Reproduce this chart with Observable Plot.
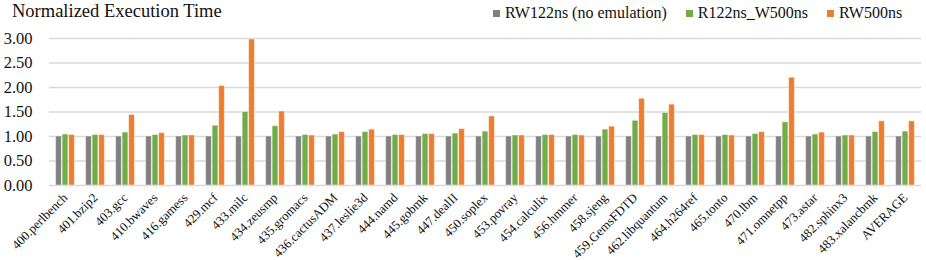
<!DOCTYPE html>
<html>
<head>
<meta charset="utf-8">
<script src="https://cdn.jsdelivr.net/npm/d3@7"></script>
<script src="https://cdn.jsdelivr.net/npm/@observablehq/plot@0.6"></script>
<style>
  html, body { margin: 0; padding: 0; background: #fff; }
  #wrap { width: 926px; font-family: "Liberation Serif", "Times New Roman", serif; color: #111; }
  #header { position: relative; height: 28px; }
  #title { position: absolute; left: 12px; top: 1px; font-size: 18.5px; }
  #legend { position: absolute; left: 493px; top: 4px; display: flex; align-items: center; font-size: 16px; white-space: nowrap; }
  .item { display: flex; align-items: center; margin-right: 19px; }
  .sw { width: 7px; height: 7px; margin-right: 5px; }
  #chart svg { overflow: visible; }
</style>
</head>
<body>
<div id="wrap">
  <div id="header">
    <div id="title">Normalized Execution Time</div>
    <div id="legend"></div>
  </div>
  <div id="chart"></div>
</div>
<script>
const categories = [
  "400.perlbench","401.bzip2","403.gcc","410.bwaves","416.gamess","429.mcf","433.milc",
  "434.zeusmp","435.gromacs","436.cactusADM","437.leslie3d","444.namd","445.gobmk",
  "447.dealII","450.soplex","453.povray","454.calculix","456.hmmer","458.sjeng",
  "459.GemsFDTD","462.libquantum","464.h264ref","465.tonto","470.lbm","471.omnetpp",
  "473.astar","482.sphinx3","483.xalancbmk","AVERAGE"
];
const seriesNames = ["RW122ns (no emulation)", "R122ns_W500ns", "RW500ns"];
const rw122 = [1.00,1.00,1.00,1.00,1.00,1.00,1.00,1.00,1.00,1.00,1.00,1.00,1.00,1.00,1.00,1.00,1.00,1.00,1.00,1.00,1.00,1.00,1.00,1.00,1.00,1.00,1.00,1.00,1.00];
const r122w500 = [1.04,1.03,1.08,1.03,1.02,1.22,1.50,1.21,1.03,1.04,1.09,1.03,1.05,1.06,1.10,1.02,1.03,1.03,1.14,1.32,1.48,1.03,1.03,1.05,1.29,1.04,1.02,1.09,1.10];
const rw500 = [1.03,1.03,1.44,1.07,1.02,2.03,2.98,1.51,1.02,1.09,1.14,1.03,1.05,1.15,1.41,1.02,1.03,1.02,1.20,1.77,1.65,1.03,1.02,1.09,2.20,1.08,1.02,1.31,1.31];
const yTicks = [0, 0.5, 1.0, 1.5, 2.0, 2.5, 3.0];
const colors = ["#808080", "#70AD47", "#ED7D31"];

const seriesValues = [rw122, r122w500, rw500];
const data = [];
seriesValues.forEach((vals, k) => {
  vals.forEach((v, i) => data.push({category: categories[i], series: seriesNames[k], value: v}));
});

// legend
const legend = document.getElementById("legend");
seriesNames.forEach((name, k) => {
  const item = document.createElement("div");
  item.className = "item";
  const sw = document.createElement("div");
  sw.className = "sw";
  sw.style.background = colors[k];
  const t = document.createElement("span");
  t.textContent = name;
  item.appendChild(sw); item.appendChild(t);
  legend.appendChild(item);
});

const offsets = [-6.5, 0, 6.5];
const barW = 5.8;
const plotW = 926, mL = 49, mR = 5;
const step = (plotW - mL - mR) / categories.length;
const inset = (step - barW) / 2;

const barMarks = seriesNames.map((name, k) =>
  Plot.barY(data.filter(d => d.series === name), {
    x: "category", y: "value", fill: "series",
    dx: offsets[k], insetLeft: inset, insetRight: inset,
    stroke: "white", strokeOpacity: 0.45, strokeWidth: 1
  })
);

const chart = Plot.plot({
  width: plotW,
  height: 232,
  marginLeft: mL,
  marginRight: mR,
  marginTop: 10,
  marginBottom: 75,
  style: {fontFamily: "'Liberation Serif', 'Times New Roman', serif", color: "#111", background: "#fff"},
  x: {domain: categories, padding: 0, label: null},
  y: {domain: [0, 3], label: null},
  color: {domain: seriesNames, range: colors},
  marks: [
    Plot.ruleY(yTicks, {stroke: "#d9d9d9", strokeWidth: 1.5}),
    ...barMarks,
    Plot.axisY(yTicks, {tickFormat: d3.format(".2f"), tickSize: 0, tickPadding: 17, fontSize: 16.5, label: null}),
    Plot.axisX({tickRotate: -45, tickSize: 0, tickPadding: 10, fontSize: 12.8, label: null})
  ]
});
document.getElementById("chart").appendChild(chart);
</script>
</body>
</html>
